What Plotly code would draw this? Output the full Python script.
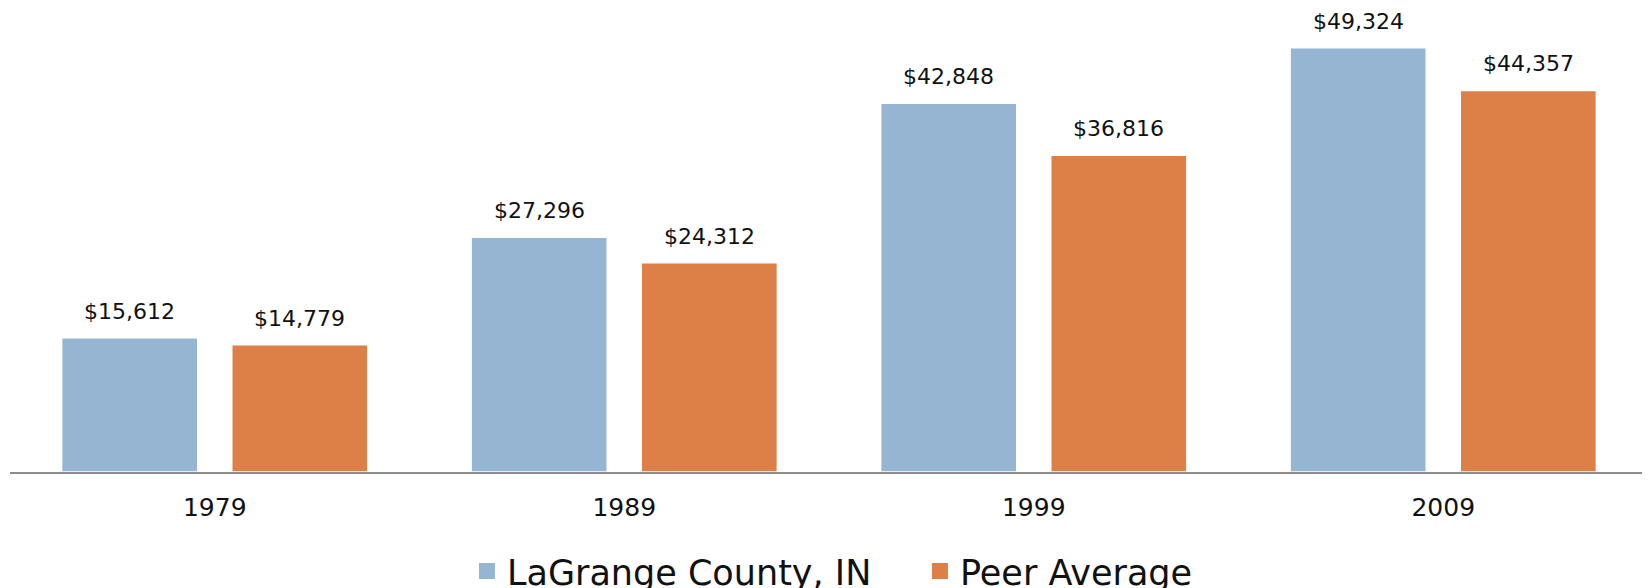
import plotly.graph_objects as go

years = ["1979", "1989", "1999", "2009"]
county_name = "LaGrange County, IN"
peer_name = "Peer Average"
county_vals = [15612, 27296, 42848, 49324]
peer_vals = [14779, 24312, 36816, 44357]

BLUE = "#95B5D2"
ORANGE = "#DD8047"
FONT = "DejaVu Sans"

fig = go.Figure()
fig.add_trace(go.Bar(x=years, y=county_vals, name=county_name, marker=dict(color=BLUE, line=dict(color="white", width=1.5)),
                     showlegend=False))
fig.add_trace(go.Bar(x=years, y=peer_vals, name=peer_name, marker=dict(color=ORANGE, line=dict(color="white", width=1.5)),
                     showlegend=False))
# legend entries with larger squares
for nm, col in [(county_name, BLUE), (peer_name, ORANGE)]:
    fig.add_trace(go.Scatter(x=[years[0]], y=[None], mode="markers", name=nm,
                             marker=dict(symbol="square", size=18, color=col)))

# value labels (x given as category index)
for vals, shift in [(county_vals, -85), (peer_vals, 85)]:
    for i, v in enumerate(vals):
        fig.add_annotation(x=i, y=v, text=f"${v:,}", showarrow=False, xshift=shift, yshift=12,
                           yanchor="bottom", font=dict(family=FONT, size=22, color="#111"))

fig.update_layout(
    width=1650, height=588,
    margin=dict(l=2, r=10, t=2, b=124),
    plot_bgcolor="white", paper_bgcolor="white",
    barmode="group", bargap=0.169, bargroupgap=0.2,
    font=dict(family=FONT, color="#111"),
    legend=dict(orientation="h", xref="container", yref="container", x=0.5527, xanchor="center",
                y=0.042, yanchor="middle", font=dict(family=FONT, size=35, color="#111"),
                entrywidth=408, entrywidthmode="pixels", itemclick=False),
    xaxis=dict(type="category", categoryorder="array", categoryarray=years,
               range=[-0.5, len(years) - 0.5],
               showline=True, linecolor="#8c8c8c", linewidth=2, ticks="", ticklabelstandoff=12,
               tickfont=dict(family=FONT, size=25, color="#111"), showgrid=False, zeroline=False),
    yaxis=dict(range=[0, 53700], visible=False, showgrid=False, zeroline=False),
)

fig.write_html("out.html")
